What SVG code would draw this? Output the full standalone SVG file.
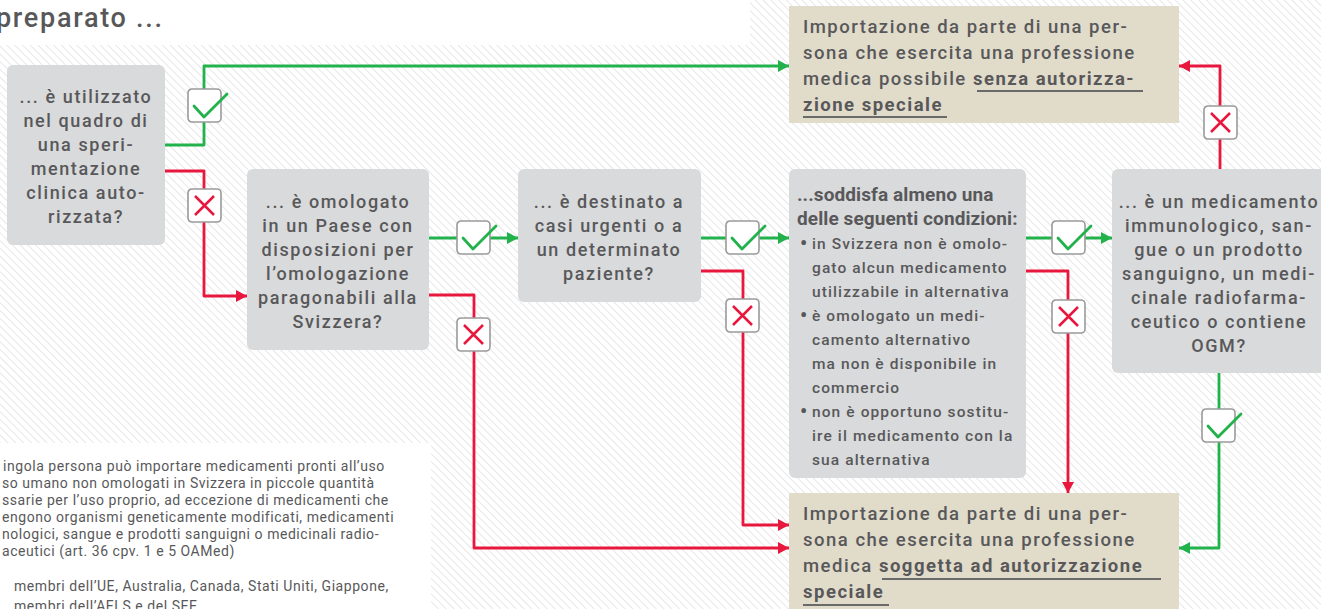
<svg xmlns="http://www.w3.org/2000/svg" width="1321" height="609" viewBox="0 0 1321 609">
<style>
.q{font-family:Roboto,"Liberation Sans",sans-serif;font-size:18px;font-weight:500;fill:#58585a;letter-spacing:1.6px;text-anchor:middle}
.b{font-family:Roboto,"Liberation Sans",sans-serif;font-size:18.5px;font-weight:500;fill:#58585a;letter-spacing:1.5px}
.bb{font-weight:700}
.h{font-family:Roboto,"Liberation Sans",sans-serif;font-size:19px;font-weight:700;fill:#58585a;letter-spacing:0.1px}
.l{font-family:Roboto,"Liberation Sans",sans-serif;font-size:15.5px;font-weight:500;fill:#58585a;letter-spacing:1.1px}
.dot{font-size:20px;font-weight:700;letter-spacing:0}
.f{font-family:Roboto,"Liberation Sans",sans-serif;font-size:14px;font-weight:400;fill:#58585a;letter-spacing:0.55px}
.grey{fill:#d9dadb}
.beige{fill:#e1dbca}
.ul{stroke:#6a6a6a;stroke-width:2}
.g{fill:none;stroke:#22b24c;stroke-width:2.8;stroke-linejoin:round}
.r{fill:none;stroke:#e8173e;stroke-width:2.8;stroke-linejoin:round}
.ib{fill:#fff;stroke:#9a9a9a;stroke-width:1.6}
.ck{fill:none;stroke:#22b24c;stroke-width:2.8;stroke-linecap:round;stroke-linejoin:round}
.cx{fill:none;stroke:#e8173e;stroke-width:2.5}
</style>
<defs>
<pattern id="hatch" patternUnits="userSpaceOnUse" width="5.5" height="5.5" patternTransform="rotate(-45)">
<rect width="5.5" height="5.5" fill="#fff"/>
<line x1="0.5" y1="0" x2="0.5" y2="5.5" stroke="#e4e4e4" stroke-width="0.9"/>
</pattern>
<marker id="ag" markerUnits="userSpaceOnUse" markerWidth="12" markerHeight="12" refX="11" refY="6" orient="auto">
<path d="M0,0 L11,6 L0,12 z" fill="#22b24c"/>
</marker>
<marker id="ar" markerUnits="userSpaceOnUse" markerWidth="12" markerHeight="12" refX="11" refY="6" orient="auto">
<path d="M0,0 L11,6 L0,12 z" fill="#e8173e"/>
</marker>
<g id="chk"><rect class="ib" x="0" y="0" width="33" height="33" rx="4"/><path class="ck" d="M6,17 L16,28 L39,5"/></g>
<g id="crs"><rect class="ib" x="0" y="0" width="33" height="33" rx="4"/><path class="cx" d="M7,7 L26,26 M26,7 L7,26"/></g>
</defs>

<rect width="1321" height="609" fill="url(#hatch)"/>
<rect x="0" y="0" width="750" height="45" fill="#fff"/>
<rect x="0" y="443" width="431" height="166" fill="#fff"/>

<text x="-4" y="27" font-family="Roboto,'Liberation Sans',sans-serif" font-size="27" font-weight="500" fill="#58585a" letter-spacing="1.7">preparato ...</text>

<g id="footnote" class="f">
<text x="3" y="471">ingola persona può importare medicamenti pronti all’uso</text>
<text x="2" y="488">so umano non omologati in Svizzera in piccole quantità</text>
<text x="2" y="505">ssarie per l’uso proprio, ad eccezione di medicamenti che</text>
<text x="2" y="522">engono organismi geneticamente modificati, medicamenti</text>
<text x="2" y="539">nologici, sangue e prodotti sanguigni o medicinali radio-</text>
<text x="2" y="556">aceutici (art. 36 cpv. 1 e 5 OAMed)</text>
<text x="14" y="591">membri dell’UE, Australia, Canada, Stati Uniti, Giappone,</text>
<text x="14" y="611">membri dell’AELS e del SEE</text>
</g>

<g id="connectors">
<path class="g" d="M165,145 H204 V66 H789" marker-end="url(#ag)"/>
<path class="r" d="M165,171 H204 V296 H247" marker-end="url(#ar)"/>
<path class="g" d="M429,238 H518" marker-end="url(#ag)"/>
<path class="r" d="M429,295 H474 V548 H789" marker-end="url(#ar)"/>
<path class="g" d="M701,238 H789" marker-end="url(#ag)"/>
<path class="r" d="M701,271 H743 V525 H789" marker-end="url(#ar)"/>
<path class="g" d="M1026,238 H1112" marker-end="url(#ag)"/>
<path class="r" d="M1026,271 H1068 V493" marker-end="url(#ar)"/>
<path class="r" d="M1220,169 V66 H1179" marker-end="url(#ar)"/>
<path class="g" d="M1219,373 V548 H1179" marker-end="url(#ag)"/>
<use href="#chk" x="188" y="89"/>
<use href="#crs" x="188" y="189"/>
<use href="#chk" x="457" y="221"/>
<use href="#crs" x="457" y="318"/>
<use href="#chk" x="726" y="221"/>
<use href="#crs" x="726" y="299"/>
<use href="#chk" x="1052" y="221"/>
<use href="#crs" x="1052" y="300"/>
<use href="#crs" x="1204" y="106"/>
<use href="#chk" x="1202" y="409"/>
</g>

<g id="n1">
<rect class="grey" x="7" y="65" width="158" height="180" rx="6"/>
<text class="q"><tspan x="86" y="103">... è utilizzato</tspan><tspan x="86" y="127">nel quadro di</tspan><tspan x="86" y="151">una speri-</tspan><tspan x="86" y="175">mentazione</tspan><tspan x="86" y="199">clinica auto-</tspan><tspan x="86" y="223">rizzata?</tspan></text>
</g>

<g id="n2">
<rect class="grey" x="247" y="169" width="182" height="181" rx="6"/>
<text class="q"><tspan x="338" y="208">... è omologato</tspan><tspan x="338" y="232">in un Paese con</tspan><tspan x="338" y="256">disposizioni per</tspan><tspan x="338" y="280">l’omologazione</tspan><tspan x="338" y="304">paragonabili alla</tspan><tspan x="338" y="328">Svizzera?</tspan></text>
</g>

<g id="n3">
<rect class="grey" x="518" y="169" width="183" height="133" rx="6"/>
<text class="q"><tspan x="609" y="208">... è destinato a</tspan><tspan x="609" y="232">casi urgenti o a</tspan><tspan x="609" y="256">un determinato</tspan><tspan x="609" y="280">paziente?</tspan></text>
</g>

<g id="n4">
<rect class="grey" x="789" y="169" width="237" height="309" rx="6"/>
<text class="h"><tspan x="797" y="201">...soddisfa almeno una</tspan><tspan x="797" y="225">delle seguenti condizioni:</tspan></text>
<text class="l">
<tspan x="800" y="250" class="dot">•</tspan><tspan x="812" y="249">in Svizzera non è omolo-</tspan>
<tspan x="812" y="273">gato alcun medicamento</tspan>
<tspan x="812" y="297">utilizzabile in alternativa</tspan>
<tspan x="800" y="322" class="dot">•</tspan><tspan x="812" y="321">è omologato un medi-</tspan>
<tspan x="812" y="345">camento alternativo</tspan>
<tspan x="812" y="369">ma non è disponibile in</tspan>
<tspan x="812" y="393">commercio</tspan>
<tspan x="800" y="418" class="dot">•</tspan><tspan x="812" y="417">non è opportuno sostitu-</tspan>
<tspan x="812" y="441">ire il medicamento con la</tspan>
<tspan x="812" y="465">sua alternativa</tspan>
</text>
</g>

<g id="n5">
<rect class="grey" x="1112" y="169" width="215" height="204" rx="6"/>
<text class="q"><tspan x="1219" y="208">... è un medicamento</tspan><tspan x="1219" y="232">immunologico, san-</tspan><tspan x="1219" y="256">gue o un prodotto</tspan><tspan x="1219" y="280">sanguigno, un medi-</tspan><tspan x="1219" y="304">cinale radiofarma-</tspan><tspan x="1219" y="328">ceutico o contiene</tspan><tspan x="1219" y="352">OGM?</tspan></text>
</g>

<g id="n6">
<rect class="beige" x="789" y="6" width="390" height="117"/>
<text class="b"><tspan x="803" y="33">Importazione da parte di una per-</tspan><tspan x="803" y="59">sona che esercita una professione</tspan><tspan x="803" y="85">medica possibile <tspan class="bb">senza autorizza-</tspan></tspan><tspan x="803" y="111" class="bb">zione speciale</tspan></text>
<line class="ul" x1="977" y1="91" x2="1143" y2="91"/>
<line class="ul" x1="803" y1="117" x2="947" y2="117"/>
</g>

<g id="n7">
<rect class="beige" x="789" y="493" width="390" height="120"/>
<text class="b"><tspan x="803" y="520">Importazione da parte di una per-</tspan><tspan x="803" y="546">sona che esercita una professione</tspan><tspan x="803" y="572">medica <tspan class="bb">soggetta ad autorizzazione</tspan></tspan><tspan x="803" y="598" class="bb">speciale</tspan></text>
<line class="ul" x1="882" y1="579" x2="1161" y2="579"/>
<line class="ul" x1="803" y1="605" x2="889" y2="605"/>
</g>
</svg>
